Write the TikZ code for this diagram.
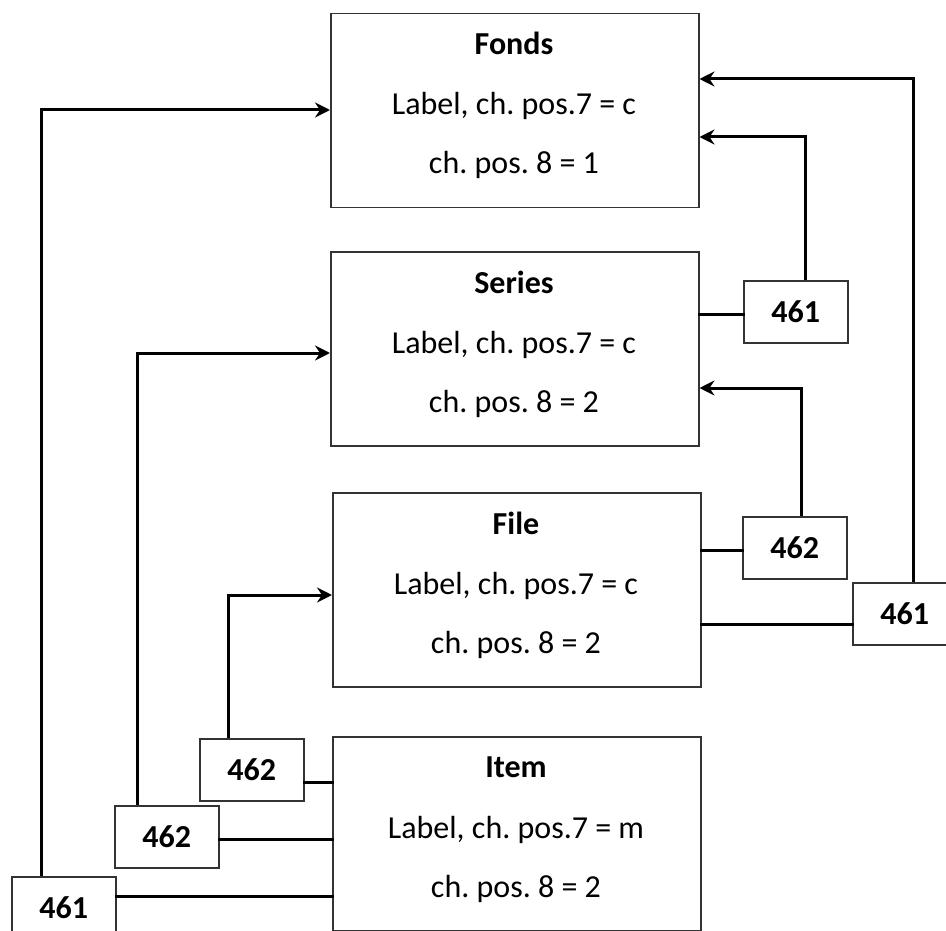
\documentclass[tikz,border=0pt]{standalone}
\usepackage{fontspec}
\setmainfont{Carlito}
\usetikzlibrary{arrows.meta}
\begin{document}
\frenchspacing
\begin{tikzpicture}[x=1pt,y=-1pt,
  bigbox/.style={draw=black!80,line width=1.5pt,minimum width=368pt,minimum height=194pt,anchor=north west,inner sep=0pt},
  numbox/.style={draw=black!80,line width=1.5pt,minimum width=104pt,minimum height=62pt,anchor=north west,inner sep=0pt,font=\fontsize{32}{38}\selectfont\bfseries},
  ttl/.style={anchor=base,inner sep=0pt,font=\fontsize{32}{38}\selectfont\bfseries},
  txt/.style={anchor=base,inner sep=0pt,font=\fontsize{32}{38}\selectfont},
  conn/.style={line width=3pt,line cap=rect},
  arr/.style={line width=3pt,-{Stealth[length=15pt,width=15pt,inset=5pt]}}]
\useasboundingbox (0,0) rectangle (946,931);
% big boxes
\node[bigbox] (fonds) at (330,13) {};
\node[bigbox] (series) at (330,251) {};
\node[bigbox] (file) at (332,492) {};
\node[bigbox] (item) at (332,736) {};
% texts
\node[ttl] (t1) at (514,55) {Fonds};
\node[txt] (l1) at (514,115) {Label, ch. pos.7 = c};
\node[txt] (p1) at (514,174) {ch. pos. 8 = 1};
\node[ttl] (t2) at (514,293) {Series};
\node[txt] (l2) at (514,353) {Label, ch. pos.7 = c};
\node[txt] (p2) at (514,412) {ch. pos. 8 = 2};
\node[ttl] (t3) at (516,534) {File};
\node[txt] (l3) at (516,594) {Label, ch. pos.7 = c};
\node[txt] (p3) at (516,653) {ch. pos. 8 = 2};
\node[ttl] (t4) at (516,777) {Item};
\node[txt] (l4) at (516,838) {Label, ch. pos.7 = m};
\node[txt] (p4) at (516,897) {ch. pos. 8 = 2};
% small boxes
\node[numbox] (r461a) at (743,280) {461};
\node[numbox] (r462) at (742,516) {462};
\node[numbox] (r461b) at (852,582) {461};
\node[numbox] (b462a) at (199,738) {462};
\node[numbox] (b462b) at (114,805) {462};
\node[numbox] (b461) at (11,876) {461};
% helper coordinates
\coordinate (c1) at (805,137);
\coordinate (c2) at (913,79);
\coordinate (c3) at (801,388);
\coordinate (c4) at (41,110);
\coordinate (c5) at (137,353);
\coordinate (c6) at (228,595);
% right side connectors
\draw[conn] (series.east |- 0,314) -- (r461a.west |- 0,314);
\draw[arr] (r461a.north -| c1) -- (c1) -- (fonds.east |- c1);
\draw[conn] (file.east |- 0,550) -- (r462.west |- 0,550);
\draw[arr] (r462.north -| c3) -- (c3) -- (series.east |- c3);
\draw[conn] (file.east |- 0,624) -- (r461b.west |- 0,624);
\draw[arr] (r461b.north -| c2) -- (c2) -- (fonds.east |- c2);
% left side connectors
\draw[conn] (b462a.east |- 0,782) -- (item.west |- 0,782);
\draw[arr] (b462a.north -| c6) -- (c6) -- (file.west |- c6);
\draw[conn] (b462b.east |- 0,839) -- (item.west |- 0,839);
\draw[arr] (b462b.north -| c5) -- (c5) -- (series.west |- c5);
\draw[conn] (b461.east |- 0,896) -- (item.west |- 0,896);
\draw[arr] (b461.north -| c4) -- (c4) -- (fonds.west |- c4);
\end{tikzpicture}
\end{document}
